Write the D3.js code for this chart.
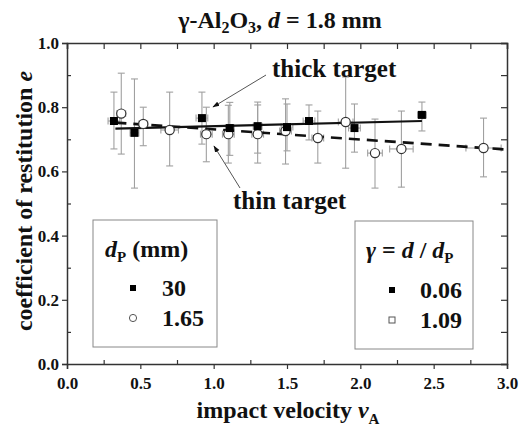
<!DOCTYPE html>
<html><head><meta charset="utf-8">
<script src="https://cdn.jsdelivr.net/npm/d3@7"></script>
<style>
body{margin:0;background:#fff;}
svg text{font-family:"Liberation Serif","Times New Roman",serif;font-weight:bold;fill:#111;}
</style></head>
<body><svg id="c" width="519" height="429"></svg>
<script>
// thick target, dp = 30 mm (filled squares)
const sqV   = [0.32, 0.46, 0.92, 1.11, 1.30, 1.50, 1.65, 1.96, 2.42];
const sqE   = [0.757, 0.720, 0.766, 0.735, 0.741, 0.738, 0.757, 0.735, 0.776];
const sqHi  = [0.847, 0.888, 0.847, 0.815, 0.807, 0.810, 0.807, 0.810, 0.816];
const sqLo  = [0.670, 0.548, 0.685, 0.650, 0.657, 0.664, 0.698, 0.660, 0.726];
const sqXe  = [0.04, 0.03, 0.04, 0.03, 0.03, 0.04, 0.04, 0.04, 0.03];
// thin target, dp = 1.65 mm (open circles)
const ciV   = [0.37, 0.52, 0.70, 0.95, 1.10, 1.30, 1.49, 1.71, 1.90, 2.10, 2.28, 2.84];
const ciE   = [0.780, 0.748, 0.729, 0.716, 0.716, 0.716, 0.726, 0.704, 0.754, 0.657, 0.670, 0.673];
const ciHi  = [0.906, 0.800, 0.847, 0.800, 0.806, 0.816, 0.826, 0.788, 0.894, 0.763, 0.788, 0.766];
const ciLo  = [0.654, 0.680, 0.617, 0.630, 0.626, 0.626, 0.623, 0.626, 0.610, 0.548, 0.551, 0.583];
const ciXe  = [0.03, 0.03, 0.06, 0.04, 0.04, 0.04, 0.04, 0.04, 0.05, 0.05, 0.08, 0.12];
// fit lines
const thickFitV = [0.33, 2.42], thickFitE = [0.733, 0.757];
const thinFitV  = [0.33, 3.00], thinFitE  = [0.752, 0.668];
const xTicks = [0, 0.5, 1.0, 1.5, 2.0, 2.5, 3.0];
const yTicks = [0, 0.2, 0.4, 0.6, 0.8, 1.0];

const svg = d3.select("#c");
const L = 67, R = 507, T = 43, B = 364;
const x = d3.scaleLinear().domain([0, 3]).range([L, R]);
const y = d3.scaleLinear().domain([0, 1]).range([B, T]);
const axisCol = "#333";

// axes
const gB = svg.append("g").attr("transform", `translate(0,${B})`)
  .call(d3.axisBottom(x).tickValues(xTicks).tickFormat(d3.format(".1f")).tickSize(5).tickPadding(8));
const gL = svg.append("g").attr("transform", `translate(${L},0)`)
  .call(d3.axisLeft(y).tickValues(yTicks).tickFormat(d3.format(".1f")).tickSize(5).tickPadding(3));
const gT = svg.append("g").attr("transform", `translate(0,${T})`)
  .call(d3.axisTop(x).tickValues(d3.range(0, 3.01, 0.25)).tickFormat("").tickSize(-6));
const gR = svg.append("g").attr("transform", `translate(${R},0)`)
  .call(d3.axisRight(y).tickValues(d3.range(0, 1.01, 0.1)).tickFormat("").tickSize(-6));
// minor ticks inside
svg.append("g").attr("transform", `translate(0,${B})`)
  .call(d3.axisBottom(x).tickValues(d3.range(0.25, 3, 0.5)).tickFormat("").tickSize(-4)).select(".domain").remove();
svg.append("g").attr("transform", `translate(${L},0)`)
  .call(d3.axisLeft(y).tickValues(d3.range(0.1, 1, 0.2)).tickFormat("").tickSize(-4)).select(".domain").remove();
svg.selectAll(".domain").attr("stroke", axisCol).attr("stroke-width", 1.5);
svg.selectAll(".tick line").attr("stroke", axisCol).attr("stroke-width", 1.2);
[gB, gL].forEach(g => g.selectAll("text").style("font-size", "17px").style("font-family", "Liberation Serif").style("font-weight", "bold").attr("fill", "#222"));

// error bars
const errCol = "#a0a0a0", cap = 3.5;
function errs(V, E, Hi, Lo, Xe) {
  const g = svg.append("g").attr("stroke", errCol).attr("stroke-width", 1.1).attr("fill", "none");
  V.forEach((v, i) => {
    const cx = x(v), cy = y(E[i]);
    g.append("line").attr("x1", cx).attr("x2", cx).attr("y1", y(Hi[i])).attr("y2", y(Lo[i]));
    g.append("line").attr("x1", cx - cap).attr("x2", cx + cap).attr("y1", y(Hi[i])).attr("y2", y(Hi[i]));
    g.append("line").attr("x1", cx - cap).attr("x2", cx + cap).attr("y1", y(Lo[i])).attr("y2", y(Lo[i]));
    g.append("line").attr("x1", x(v - Xe[i])).attr("x2", x(v + Xe[i])).attr("y1", cy).attr("y2", cy);
    g.append("line").attr("x1", x(v - Xe[i])).attr("x2", x(v - Xe[i])).attr("y1", cy - cap).attr("y2", cy + cap);
    g.append("line").attr("x1", x(v + Xe[i])).attr("x2", x(v + Xe[i])).attr("y1", cy - cap).attr("y2", cy + cap);
  });
}
errs(ciV, ciE, ciHi, ciLo, ciXe);
errs(sqV, sqE, sqHi, sqLo, sqXe);

// fit lines
const line = d3.line().x(d => x(d[0])).y(d => y(d[1]));
svg.append("path").attr("d", line(d3.zip(thinFitV, thinFitE)))
  .attr("stroke", "#111").attr("stroke-width", 2.6).attr("stroke-dasharray", "11,7").attr("fill", "none");
svg.append("path").attr("d", line(d3.zip(thickFitV, thickFitE)))
  .attr("stroke", "#111").attr("stroke-width", 2.2).attr("fill", "none");

// markers
svg.append("g").selectAll("circle").data(ciV).join("circle")
  .attr("cx", d => x(d)).attr("cy", (d, i) => y(ciE[i])).attr("r", 4.6)
  .attr("fill", "#fff").attr("stroke", "#333").attr("stroke-width", 1.2);
const s = 8;
svg.append("g").selectAll("rect").data(sqV).join("rect")
  .attr("x", d => x(d) - s / 2).attr("y", (d, i) => y(sqE[i]) - s / 2).attr("width", s).attr("height", s)
  .attr("fill", "#000");

// arrows
svg.append("defs").append("marker").attr("id", "ah").attr("viewBox", "0 0 10 10")
  .attr("refX", 9).attr("refY", 5).attr("markerWidth", 7).attr("markerHeight", 7).attr("orient", "auto")
  .append("path").attr("d", "M0,1.5 L10,5 L0,8.5 Z").attr("fill", "#111");
svg.append("line").attr("x1", 266).attr("y1", 75).attr("x2", 213).attr("y2", 107)
  .attr("stroke", "#555").attr("stroke-width", 1).attr("marker-end", "url(#ah)");
svg.append("line").attr("x1", 240).attr("y1", 188).attr("x2", 214).attr("y2", 146)
  .attr("stroke", "#555").attr("stroke-width", 1).attr("marker-end", "url(#ah)");

// annotation text
svg.append("text").attr("x", 272).attr("y", 77).style("font-size", "25px").text("thick target");
svg.append("text").attr("x", 233).attr("y", 209).style("font-size", "25px").text("thin target");

// title
const tt = svg.append("text").attr("x", 280).attr("y", 28).attr("text-anchor", "middle").style("font-size", "24px");
tt.append("tspan").text("γ-Al");
tt.append("tspan").attr("dy", 5).style("font-size", "16px").text("2");
tt.append("tspan").attr("dy", -5).text("O");
tt.append("tspan").attr("dy", 5).style("font-size", "16px").text("3");
tt.append("tspan").attr("dy", -5).text(", ");
tt.append("tspan").style("font-style", "italic").text("d");
tt.append("tspan").text(" = 1.8 mm");

// axis titles
const yl = svg.append("text").attr("transform", "translate(32,201) rotate(-90)").attr("text-anchor", "middle").style("font-size", "24px");
yl.append("tspan").text("coefficient of restitution ");
yl.append("tspan").style("font-style", "italic").text("e");
const xl = svg.append("text").attr("x", 288).attr("y", 418).attr("text-anchor", "middle").style("font-size", "24px");
xl.append("tspan").text("impact velocity ");
xl.append("tspan").style("font-style", "italic").text("v");
xl.append("tspan").attr("dy", 6).style("font-size", "15px").text("A");

// legends
const boxCol = "#888";
svg.append("rect").attr("x", 93).attr("y", 220).attr("width", 124).attr("height", 127)
  .attr("fill", "#fff").attr("stroke", boxCol).attr("stroke-width", 1);
svg.append("rect").attr("x", 355).attr("y", 221).attr("width", 118).attr("height", 128)
  .attr("fill", "#fff").attr("stroke", boxCol).attr("stroke-width", 1);

const l1 = svg.append("text").attr("x", 105).attr("y", 257).style("font-size", "24px");
l1.append("tspan").style("font-style", "italic").text("d");
l1.append("tspan").attr("dy", 5).style("font-size", "15px").text("P");
l1.append("tspan").attr("dy", -5).text(" (mm)");
svg.append("rect").attr("x", 130).attr("y", 285).attr("width", 6).attr("height", 6).attr("fill", "#000");
svg.append("circle").attr("cx", 133).attr("cy", 318).attr("r", 3.6).attr("fill", "#fff").attr("stroke", "#555");
svg.append("text").attr("x", 162).attr("y", 296).style("font-size", "24px").text("30");
svg.append("text").attr("x", 162).attr("y", 326).style("font-size", "24px").text("1.65");

const l2 = svg.append("text").attr("x", 366).attr("y", 258).style("font-size", "24px");
l2.append("tspan").style("font-style", "italic").text("γ");
l2.append("tspan").text(" = ");
l2.append("tspan").style("font-style", "italic").text("d");
l2.append("tspan").text(" / ");
l2.append("tspan").style("font-style", "italic").text("d");
l2.append("tspan").attr("dy", 5).style("font-size", "15px").text("P");
svg.append("rect").attr("x", 389).attr("y", 287).attr("width", 6).attr("height", 6).attr("fill", "#000");
svg.append("rect").attr("x", 389).attr("y", 317).attr("width", 6).attr("height", 6).attr("fill", "#fff").attr("stroke", "#555");
svg.append("text").attr("x", 420).attr("y", 298).style("font-size", "24px").text("0.06");
svg.append("text").attr("x", 420).attr("y", 328).style("font-size", "24px").text("1.09");
</script></body></html>
